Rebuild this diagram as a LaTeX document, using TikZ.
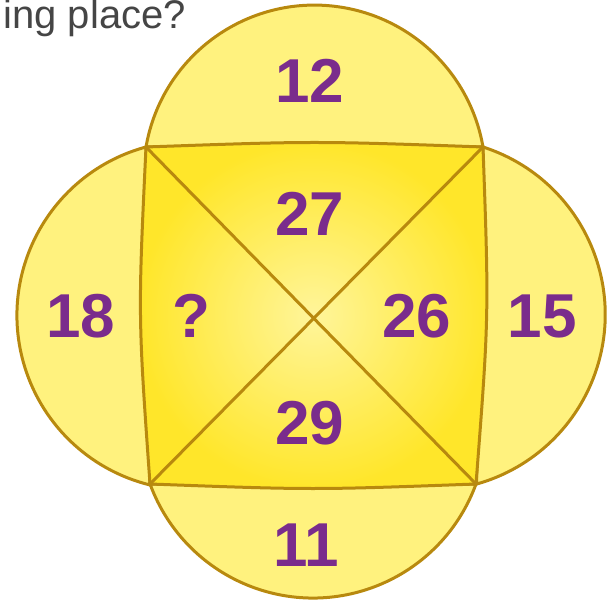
\documentclass[tikz,border=0pt]{standalone}
\usepackage{fontspec}
\setmainfont{Liberation Sans}
\usetikzlibrary{positioning}
\definecolor{cpale}{HTML}{FFF27E}
\definecolor{cgold}{HTML}{FFE62A}
\definecolor{clight}{HTML}{FFF59A}
\definecolor{cedge}{HTML}{B8890E}
\definecolor{cnum}{HTML}{7A2C8C}
\definecolor{ctext}{HTML}{454545}
\tikzset{
  every picture/.style={x=0.5pt, y=-0.5pt, line width=1.5pt},
  lobe/.style={draw=cedge, fill=cpale},
  num/.style={text=cnum, font=\fontsize{31}{31}\selectfont\bfseries, inner sep=0pt},
  caption/.style={text=ctext, font=\fontsize{20}{24}\selectfont, inner sep=0pt},
}
\begin{document}
\begin{tikzpicture}
  \useasboundingbox (0,0) rectangle (609,603);
  % corners of the square
  \coordinate (tl) at (146,147);
  \coordinate (tr) at (483,147);
  \coordinate (br) at (476,484);
  \coordinate (bl) at (150,484);
  % the four lobes
  \draw[lobe] (tl) arc[start angle=189.8, end angle=350.2, radius=171] -- cycle;
  \draw[lobe] (tl) arc[start angle=254.9, end angle=103.8, radius=174.5] -- cycle;
  \draw[lobe] (tr) arc[start angle=287.8, end angle=434.4, radius=176] -- cycle;
  \draw[lobe] (br) arc[start angle=20.05, end angle=159.95, radius=173.5] -- cycle;
  % square
  \draw[cedge, inner color=clight, outer color=cgold]
    (tl) .. controls (314.5,141) .. (tr) .. controls (489,315.5) .. (br)
         .. controls (313,490) .. (bl) .. controls (138,315.5) .. (tl) -- cycle;
  \draw[cedge] (tl) -- (br);
  \draw[cedge] (tr) -- (bl);
  % numbers
  \foreach \n/\x/\y/\t in {n12/310/81/12, n27/310/214/27, nq/191/316/?, n18/81/316/18,
                           n26/417/316/26, n15/542/316/15, n29/310/423/29, n11/306/545/11}
    \node[num] (\n) at (\x,\y) {\t};
  \node[caption, anchor=base west] (cap) at (2,29) {ing place?};
\end{tikzpicture}
\end{document}
